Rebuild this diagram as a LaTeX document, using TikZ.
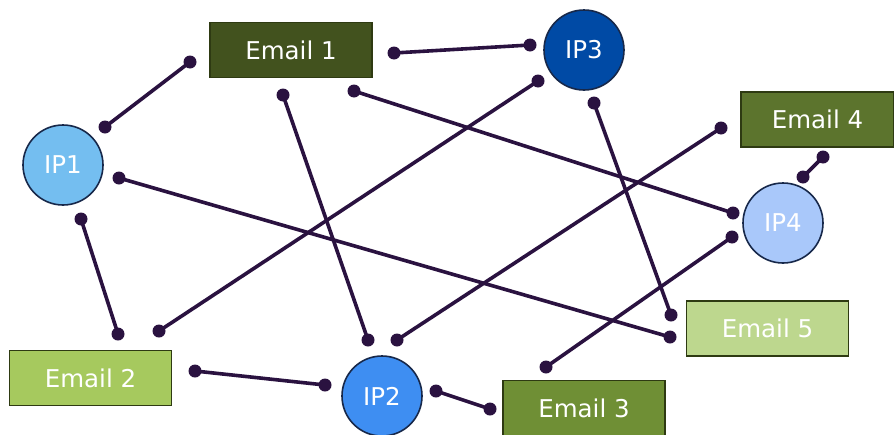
\documentclass[tikz,border=0pt]{standalone}
\usepackage{fontspec}
\setmainfont{DejaVu Sans}
\usepackage{tikz}
\usetikzlibrary{positioning, calc}
\usepackage{xcolor}

\definecolor{linkcol}{HTML}{2A1240}
\definecolor{boxline}{HTML}{2E3A12}
\definecolor{ipline}{HTML}{17284A}
\definecolor{mailA}{HTML}{42521E}
\definecolor{mailB}{HTML}{A6C95E}
\definecolor{mailC}{HTML}{6F8F35}
\definecolor{mailD}{HTML}{5C742D}
\definecolor{mailE}{HTML}{BDD78E}
\definecolor{ipA}{HTML}{74BEF0}
\definecolor{ipB}{HTML}{3E8EF2}
\definecolor{ipC}{HTML}{004AA5}
\definecolor{ipD}{HTML}{A9C8FA}

\tikzset{
  mailbox/.style={draw=boxline, line width=1.6pt, minimum width=162pt, minimum height=55pt,
    inner sep=0pt, text=white, font=\fontsize{24.5}{29}\selectfont},
  ipnode/.style={circle, draw=ipline, line width=1.6pt, minimum size=80pt,
    inner sep=0pt, text=white, font=\fontsize{24.5}{29}\selectfont},
  dot/.style={circle, fill=linkcol, inner sep=0pt, minimum size=13pt},
  link/.style={draw=linkcol, line width=3.6pt}
}

\begin{document}
\begin{tikzpicture}[x=1pt, y=-1pt]
				\useasboundingbox (0,0) rectangle (894,434);
				
				% boxes and circles
				\node[mailbox, fill=mailA] (email1) at (291,50) {Email 1};
				\node[mailbox, fill=mailB] (email2) at (90.5,378) {Email 2};
				\node[mailbox, fill=mailC] (email3) at (584,408) {Email 3};
				\node[mailbox, fill=mailD, minimum width=153pt] (email4) at (817.5,119.5) {Email 4};
				\node[mailbox, fill=mailE] (email5) at (767.5,328.5) {Email 5};
				
				\node[ipnode, fill=ipA] (ip1) at (63,165) {IP1};
				\node[ipnode, fill=ipB] (ip2) at (382,396) {IP2};
				\node[ipnode, fill=ipC] (ip3) at (584,50) {IP3};
				\node[ipnode, fill=ipD] (ip4) at (783,223) {IP4};
				
				% end dots
				\node[dot] (d1a) at (105,127) {};  \node[dot] (d1b) at (190,62) {};
				\node[dot] (d2a) at (394,53) {};   \node[dot] (d2b) at (530,45) {};
				\node[dot] (d3a) at (283,95) {};   \node[dot] (d3b) at (368,340) {};
				\node[dot] (d4a) at (354,91) {};   \node[dot] (d4b) at (733,213) {};
				\node[dot] (d5a) at (119,178) {};  \node[dot] (d5b) at (670,337) {};
				\node[dot] (d6a) at (81,219) {};   \node[dot] (d6b) at (118,334) {};
				\node[dot] (d7a) at (159,331) {};  \node[dot] (d7b) at (538,81) {};
				\node[dot] (d8a) at (195,371) {};  \node[dot] (d8b) at (325,385) {};
				\node[dot] (d9a) at (397,340) {};  \node[dot] (d9b) at (721,128) {};
				\node[dot] (d10a) at (436,391) {}; \node[dot] (d10b) at (490,409) {};
				\node[dot] (d11a) at (594,103) {}; \node[dot] (d11b) at (671,315) {};
				\node[dot] (d12a) at (546,367) {}; \node[dot] (d12b) at (732,237) {};
				\node[dot] (d13a) at (823,157) {}; \node[dot] (d13b) at (803,177) {};
				
				% connectors
				\foreach \i in {1,...,13}
					\draw[link] (d\i a.center) -- (d\i b.center);
			\end{tikzpicture}
\end{document}
